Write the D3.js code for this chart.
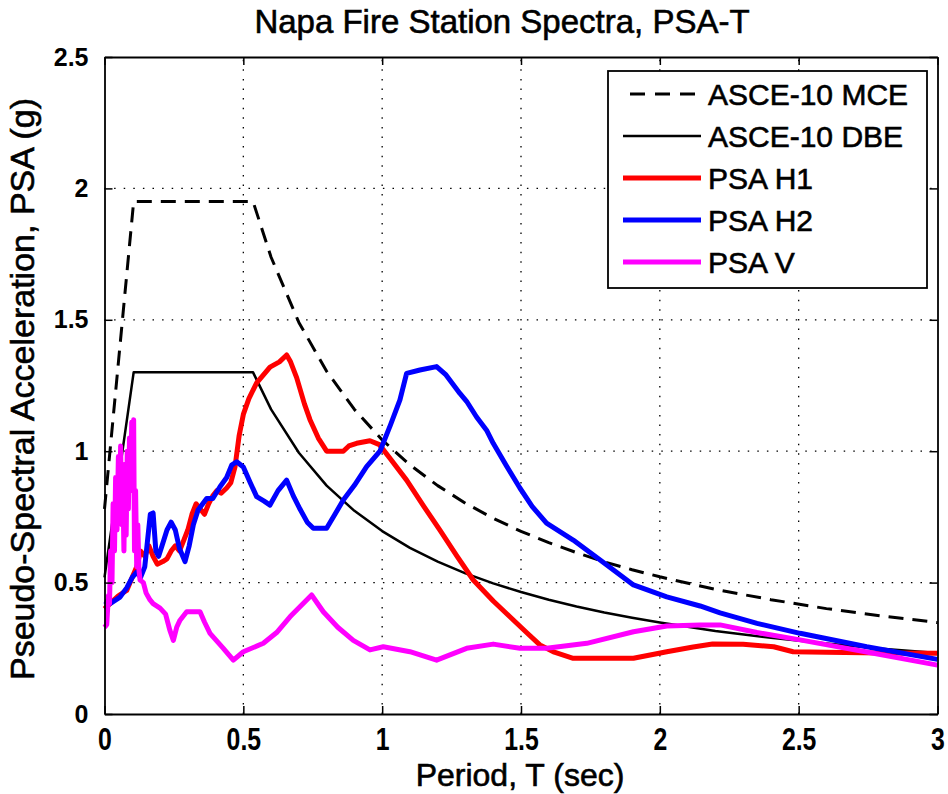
<!DOCTYPE html>
<html><head><meta charset="utf-8">
<script src="https://cdn.jsdelivr.net/npm/d3@7"></script>
<style>html,body{margin:0;padding:0;background:#fff;}svg{display:block;font-family:"Liberation Sans",Arial,sans-serif;}</style>
</head><body>
<svg id="chart" width="948" height="794"></svg>
<script>
const xTicks = [0, 0.5, 1, 1.5, 2, 2.5, 3];
const yTicks = [0, 0.5, 1, 1.5, 2, 2.5];
const xTickLabels = ["0", "0.5", "1", "1.5", "2", "2.5", "3"];
const yTickLabels = ["0", "0.5", "1", "1.5", "2", "2.5"];
const seriesNames = ["ASCE-10 MCE", "ASCE-10 DBE", "PSA H1", "PSA H2", "PSA V"];

const mce = [[0,0.78],[0.105,1.95],[0.535,1.95],[0.6,1.738],[0.7,1.49],[0.8,1.304],[0.9,1.159],[1.0,1.043],[1.1,0.948],[1.2,0.869],[1.3,0.802],[1.4,0.745],[1.5,0.695],[1.6,0.652],[1.7,0.614],[1.8,0.579],[1.9,0.549],[2.0,0.522],[2.2,0.474],[2.4,0.435],[2.6,0.401],[2.8,0.373],[3.0,0.348]];
const dbe = [[0,0.52],[0.105,1.3],[0.535,1.3],[0.6,1.159],[0.7,0.994],[0.8,0.869],[0.9,0.773],[1.0,0.696],[1.1,0.632],[1.2,0.58],[1.3,0.535],[1.4,0.497],[1.5,0.464],[1.6,0.435],[1.7,0.409],[1.8,0.386],[1.9,0.366],[2.0,0.348],[2.2,0.316],[2.4,0.29],[2.6,0.268],[2.8,0.248],[3.0,0.232]];
const psaH1 = [[0,0.40],[0.02,0.42],[0.05,0.45],[0.08,0.47],[0.1,0.52],[0.116,0.56],[0.13,0.62],[0.145,0.6],[0.16,0.64],[0.175,0.6],[0.19,0.57],[0.21,0.58],[0.225,0.59],[0.24,0.62],[0.255,0.64],[0.27,0.62],[0.285,0.66],[0.3,0.7],[0.315,0.76],[0.33,0.8],[0.345,0.78],[0.36,0.76],[0.375,0.8],[0.39,0.83],[0.405,0.85],[0.42,0.84],[0.44,0.86],[0.455,0.88],[0.47,0.94],[0.485,1.06],[0.5,1.14],[0.52,1.2],[0.548,1.26],[0.596,1.32],[0.63,1.34],[0.656,1.366],[0.67,1.34],[0.692,1.28],[0.72,1.18],[0.74,1.12],[0.77,1.05],[0.8,1.0],[0.86,1.0],[0.88,1.02],[0.908,1.03],[0.956,1.04],[0.99,1.025],[1.03,0.97],[1.088,0.89],[1.15,0.79],[1.208,0.70],[1.27,0.6],[1.328,0.51],[1.4,0.43],[1.46,0.37],[1.52,0.31],[1.568,0.263],[1.62,0.235],[1.688,0.212],[1.8,0.212],[1.905,0.212],[2.025,0.237],[2.12,0.255],[2.19,0.266],[2.3,0.265],[2.41,0.256],[2.48,0.237],[2.6,0.235],[2.8,0.232],[3.0,0.231]];
const psaH2 = [[0,0.43],[0.02,0.42],[0.056,0.445],[0.08,0.48],[0.1,0.52],[0.116,0.54],[0.13,0.52],[0.145,0.56],[0.155,0.66],[0.165,0.76],[0.175,0.765],[0.185,0.62],[0.195,0.6],[0.21,0.65],[0.225,0.7],[0.24,0.73],[0.255,0.7],[0.27,0.63],[0.29,0.58],[0.305,0.64],[0.32,0.72],[0.337,0.776],[0.368,0.82],[0.39,0.82],[0.416,0.865],[0.44,0.9],[0.458,0.947],[0.476,0.96],[0.5,0.94],[0.525,0.88],[0.548,0.827],[0.575,0.81],[0.596,0.795],[0.625,0.85],[0.656,0.89],[0.68,0.83],[0.704,0.78],[0.73,0.73],[0.752,0.707],[0.8,0.707],[0.83,0.76],[0.86,0.814],[0.9,0.87],[0.944,0.941],[0.992,1.0],[1.03,1.1],[1.064,1.195],[1.088,1.296],[1.136,1.309],[1.196,1.322],[1.23,1.29],[1.28,1.22],[1.304,1.19],[1.34,1.13],[1.376,1.08],[1.40,1.03],[1.45,0.94],[1.496,0.86],[1.54,0.79],[1.592,0.726],[1.688,0.662],[1.785,0.586],[1.905,0.491],[2.025,0.446],[2.145,0.411],[2.217,0.385],[2.35,0.345],[2.505,0.307],[2.745,0.256],[3.0,0.208]];
const psaV = [[0,0.33],[0.008,0.34],[0.014,0.45],[0.018,0.42],[0.022,0.62],[0.027,0.5],[0.031,0.8],[0.036,0.62],[0.04,0.9],[0.045,0.7],[0.05,0.98],[0.055,0.8],[0.058,1.02],[0.062,0.72],[0.066,0.88],[0.07,0.62],[0.074,0.95],[0.078,0.68],[0.082,1.0],[0.086,0.78],[0.09,1.05],[0.094,0.85],[0.098,1.11],[0.102,0.9],[0.105,1.12],[0.108,0.62],[0.112,0.85],[0.116,0.56],[0.12,0.72],[0.124,0.55],[0.128,0.51],[0.14,0.5],[0.15,0.46],[0.164,0.434],[0.175,0.42],[0.2,0.403],[0.22,0.38],[0.235,0.32],[0.248,0.28],[0.26,0.33],[0.272,0.357],[0.296,0.389],[0.344,0.389],[0.36,0.35],[0.38,0.307],[0.428,0.25],[0.464,0.205],[0.5,0.237],[0.572,0.269],[0.62,0.31],[0.668,0.37],[0.746,0.453],[0.788,0.389],[0.84,0.33],[0.896,0.28],[0.956,0.244],[1.004,0.256],[1.1,0.237],[1.196,0.205],[1.304,0.25],[1.40,0.266],[1.496,0.25],[1.592,0.25],[1.737,0.269],[1.905,0.313],[2.025,0.335],[2.145,0.339],[2.217,0.339],[2.35,0.31],[2.505,0.282],[2.75,0.235],[3.0,0.186]];

const L = 104.5, R = 937.5, T = 57, B = 714;
const svg = d3.select("#chart");
const x = d3.scaleLinear().domain([0, 3]).range([L, R]);
const y = d3.scaleLinear().domain([0, 2.5]).range([B, T]);

// grid
const grid = svg.append("g").attr("stroke", "#000").attr("stroke-width", 1.3).attr("stroke-dasharray", "1.5,8.1");
grid.selectAll(".gx").data(xTicks.slice(1, -1)).join("line")
  .attr("x1", d => x(d)).attr("x2", d => x(d)).attr("y1", B).attr("y2", T);
grid.selectAll(".gy").data(yTicks.slice(1, -1)).join("line")
  .attr("y1", d => y(d)).attr("y2", d => y(d)).attr("x1", L).attr("x2", R);

const line = d3.line().x(d => x(d[0])).y(d => y(d[1]));
const styles = [
  {data: mce, color: "#000", w: 3, dash: "15,9"},
  {data: dbe, color: "#000", w: 2.5, dash: null},
  {data: psaH1, color: "#ff0000", w: 5, dash: null},
  {data: psaH2, color: "#0000ff", w: 5, dash: null},
  {data: psaV, color: "#ff00ff", w: 5, dash: null}
];
const plot = svg.append("g");
styles.forEach(s => {
  plot.append("path").datum(s.data).attr("d", line)
    .attr("fill", "none").attr("stroke", s.color).attr("stroke-width", s.w)
    .attr("stroke-linejoin", "round")
    .attr("stroke-dasharray", s.dash);
});

// axes
const xAxisB = d3.axisBottom(x).tickValues(xTicks).tickFormat((d, i) => xTickLabels[i]).tickSizeInner(-8).tickSizeOuter(0).tickPadding(14);
const yAxisL = d3.axisLeft(y).tickValues(yTicks).tickFormat((d, i) => yTickLabels[i]).tickSizeInner(-8).tickSizeOuter(0).tickPadding(16);
const xAxisT = d3.axisTop(x).tickValues(xTicks).tickFormat("").tickSizeInner(-8).tickSizeOuter(0);
const yAxisR = d3.axisRight(y).tickValues(yTicks).tickFormat("").tickSizeInner(-8).tickSizeOuter(0);

const gxb = svg.append("g").attr("transform", `translate(0,${B})`).call(xAxisB);
const gyl = svg.append("g").attr("transform", `translate(${L},0)`).call(yAxisL);
const gxt = svg.append("g").attr("transform", `translate(0,${T})`).call(xAxisT);
const gyr = svg.append("g").attr("transform", `translate(${R},0)`).call(yAxisR);
[gxb, gyl, gxt, gyr].forEach(g => {
  g.select(".domain").attr("stroke", "#000").attr("stroke-width", 1.8);
  g.selectAll(".tick line").attr("stroke", "#000").attr("stroke-width", 1.5);
});
gxb.selectAll(".tick text").attr("font-size", 31).attr("font-weight", "bold").attr("fill", "#000")
  .attr("font-family", "'Liberation Sans',Arial,sans-serif")
  .attr("dy", "0.71em").attr("transform", "scale(0.8,1)");
gyl.selectAll(".tick text").attr("font-size", 25).attr("font-weight", "bold").attr("fill", "#000")
  .attr("font-family", "'Liberation Sans',Arial,sans-serif");

// title and labels
const heavy = sel => sel.attr("fill", "#000").attr("stroke", "#000").attr("stroke-width", 0.6);
heavy(svg.append("text").attr("x", 502).attr("y", 33).attr("text-anchor", "middle")
  .attr("font-size", 33).text("Napa Fire Station Spectra, PSA-T"));
heavy(svg.append("text").attr("x", 520).attr("y", 786).attr("text-anchor", "middle")
  .attr("font-size", 32).text("Period, T (sec)"));
heavy(svg.append("text").attr("transform", "translate(34,389) rotate(-90)").attr("text-anchor", "middle")
  .attr("font-size", 34).text("Pseudo-Spectral Acceleration, PSA (g)"));

// legend
const lg = svg.append("g");
lg.append("rect").attr("x", 608).attr("y", 71).attr("width", 319).attr("height", 217)
  .attr("fill", "#fff").attr("stroke", "#000").attr("stroke-width", 1.8);
styles.forEach((s, i) => {
  const yy = 94 + 42 * i;
  lg.append("line").attr("x1", s.dash ? 630 : 623).attr("x2", 701).attr("y1", yy).attr("y2", yy)
    .attr("stroke", s.color).attr("stroke-width", s.w).attr("stroke-dasharray", s.dash ? "15,10" : null);
  heavy(lg.append("text").attr("x", 708).attr("y", yy + 11).attr("font-size", 30).text(seriesNames[i]));
});
</script>
</body></html>
